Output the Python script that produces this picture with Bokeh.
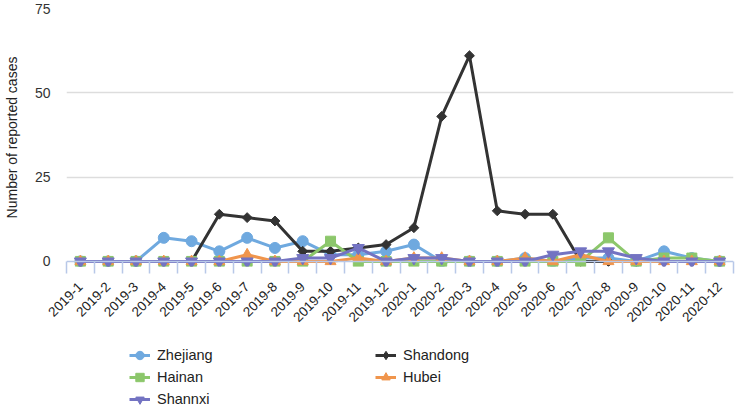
import math
from bokeh.plotting import figure
from bokeh.layouts import column
from bokeh.models import Range1d, FixedTicker, Span, Legend, LegendItem
from bokeh.embed import file_html
from bokeh.resources import INLINE

months = ["2019-1", "2019-2", "2019-3", "2019-4", "2019-5", "2019-6",
          "2019-7", "2019-8", "2019-9", "2019-10", "2019-11", "2019-12",
          "2020-1", "2020-2", "2020-3", "2020-4", "2020-5", "2020-6",
          "2020-7", "2020-8", "2020-9", "2020-10", "2020-11", "2020-12"]

zhejiang = [0, 0, 0, 7, 6, 3, 7, 4, 6, 2, 2, 3, 5, 0, 0, 0, 1, 0, 1, 1, 0, 3, 1, 0]
shandong = [0, 0, 0, 0, 0, 14, 13, 12, 3, 3, 4, 5, 10, 43, 61, 15, 14, 14, 0, 0, 0, 0, 0, 0]
hainan = [0, 0, 0, 0, 0, 0, 0, 0, 0, 6, 0, 0, 0, 0, 0, 0, 0, 0, 0, 7, 0, 1, 1, 0]
hubei = [0, 0, 0, 0, 0, 0, 2, 0, 0, 0, 1, 0, 1, 1, 0, 0, 1, 0, 2, 0, 0, 0, 0, 0]
shannxi = [0, 0, 0, 0, 0, 0, 0, 0, 1, 1, 4, 0, 1, 1, 0, 0, 0, 2, 3, 3, 1, 0, 0, 0]

y_ticks = [0, 25, 50, 75]

# name, values, colour, marker, size, angle, legend marker, legend size
series = [
    ("Zhejiang", zhejiang, "#6fa9df", "circle", 11, 0, "circle", 10),
    ("Shandong", shandong, "#333333", "square", 7, math.pi / 4, "diamond", 12),
    ("Hainan", hainan, "#8cc76b", "square", 10, 0, "square", 9),
    ("Hubei", hubei, "#f0954c", "triangle", 11, 0, "triangle", 11),
    ("Shannxi", shannxi, "#7373c2", "inverted_triangle", 12, 0, "inverted_triangle", 11),
]
legend_order = ["Zhejiang", "Hainan", "Shannxi", "Shandong", "Hubei"]

FONT = "Liberation Sans"
AXIS_BLUE = "#b8c8e8"

x = list(range(len(months)))

p = figure(width=736, height=328, output_backend="svg", toolbar_location=None,
           x_range=Range1d(-0.5, len(months) - 0.5), y_range=Range1d(-1.5, 75),
           min_border_left=53, min_border_right=3, min_border_top=8,
           min_border_bottom=62)
p.outline_line_color = None

# y axis
p.yaxis.ticker = FixedTicker(ticks=y_ticks)
p.yaxis.axis_line_color = None
p.yaxis.major_tick_line_color = None
p.yaxis.minor_tick_line_color = None
p.yaxis.major_label_text_font = FONT
p.yaxis.major_label_text_font_size = "14px"
p.yaxis.major_label_text_color = "#333333"
p.yaxis.major_label_standoff = 10
p.yaxis.axis_label = "Number of reported cases"
p.yaxis.axis_label_text_font = FONT
p.yaxis.axis_label_text_font_size = "14px"
p.yaxis.axis_label_text_font_style = "normal"
p.yaxis.axis_label_text_color = "#222222"
p.yaxis.axis_label_standoff = 12
p.ygrid.ticker = FixedTicker(ticks=y_ticks[1:])
p.ygrid.grid_line_color = "#dddddd"
p.ygrid.grid_line_width = 1.5

# x axis
p.xaxis.ticker = FixedTicker(ticks=x, minor_ticks=[i - 0.5 for i in range(len(months) + 1)])
p.xaxis.major_label_overrides = {i: m for i, m in enumerate(months)}
p.xaxis.major_label_orientation = math.pi / 4
p.xaxis.axis_line_color = None
p.xaxis.major_tick_line_color = None
p.xaxis.major_tick_in = 0
p.xaxis.major_tick_out = 0
p.xaxis.major_label_standoff = 11
p.xaxis.minor_tick_in = 5
p.xaxis.minor_tick_out = 7
p.xaxis.minor_tick_line_color = AXIS_BLUE
p.xaxis.minor_tick_line_width = 1.5
p.xaxis.major_label_text_font = FONT
p.xaxis.major_label_text_font_size = "13.5px"
p.xaxis.major_label_text_color = "#222222"
p.xgrid.grid_line_color = None

p.add_layout(Span(location=0, dimension="width", line_color=AXIS_BLUE, line_width=1.5))

for name, vals, color, marker, size, angle, lmarker, lsize in series:
    p.line(x, vals, line_color=color, line_width=3)
    p.scatter(x, vals, marker=marker, size=size, angle=angle, fill_color=color,
              line_color=color)

# legend strip below the chart: same series, drawn outside its visible range
lg = figure(width=736, height=78, output_backend="svg", toolbar_location=None,
            x_range=Range1d(-0.5, len(months) - 0.5), y_range=Range1d(1000, 1001),
            x_axis_location=None, y_axis_location=None, min_border=0)
lg.outline_line_color = None
lg.grid.visible = False

items = {}
for name, vals, color, marker, size, angle, lmarker, lsize in series:
    ln = lg.line(x, vals, line_color=color, line_width=3)
    sc = lg.scatter(x, vals, marker=lmarker, size=lsize,
                    fill_color=color, line_color=color)
    items[name] = LegendItem(label=name, renderers=[ln, sc])

legend = Legend(items=[items[n] for n in legend_order],
                orientation="vertical", nrows=3, location=(63, -4),
                margin=0, padding=0, spacing=0, glyph_width=21, glyph_height=22,
                label_height=22, label_width=218, label_standoff=7,
                label_text_font=FONT, label_text_font_size="14.5px",
                label_text_color="#222222", border_line_color=None,
                background_fill_alpha=0)
lg.add_layout(legend, "center")

layout = column(p, lg, spacing=0)
open("out.html", "w").write(file_html(layout, INLINE))
